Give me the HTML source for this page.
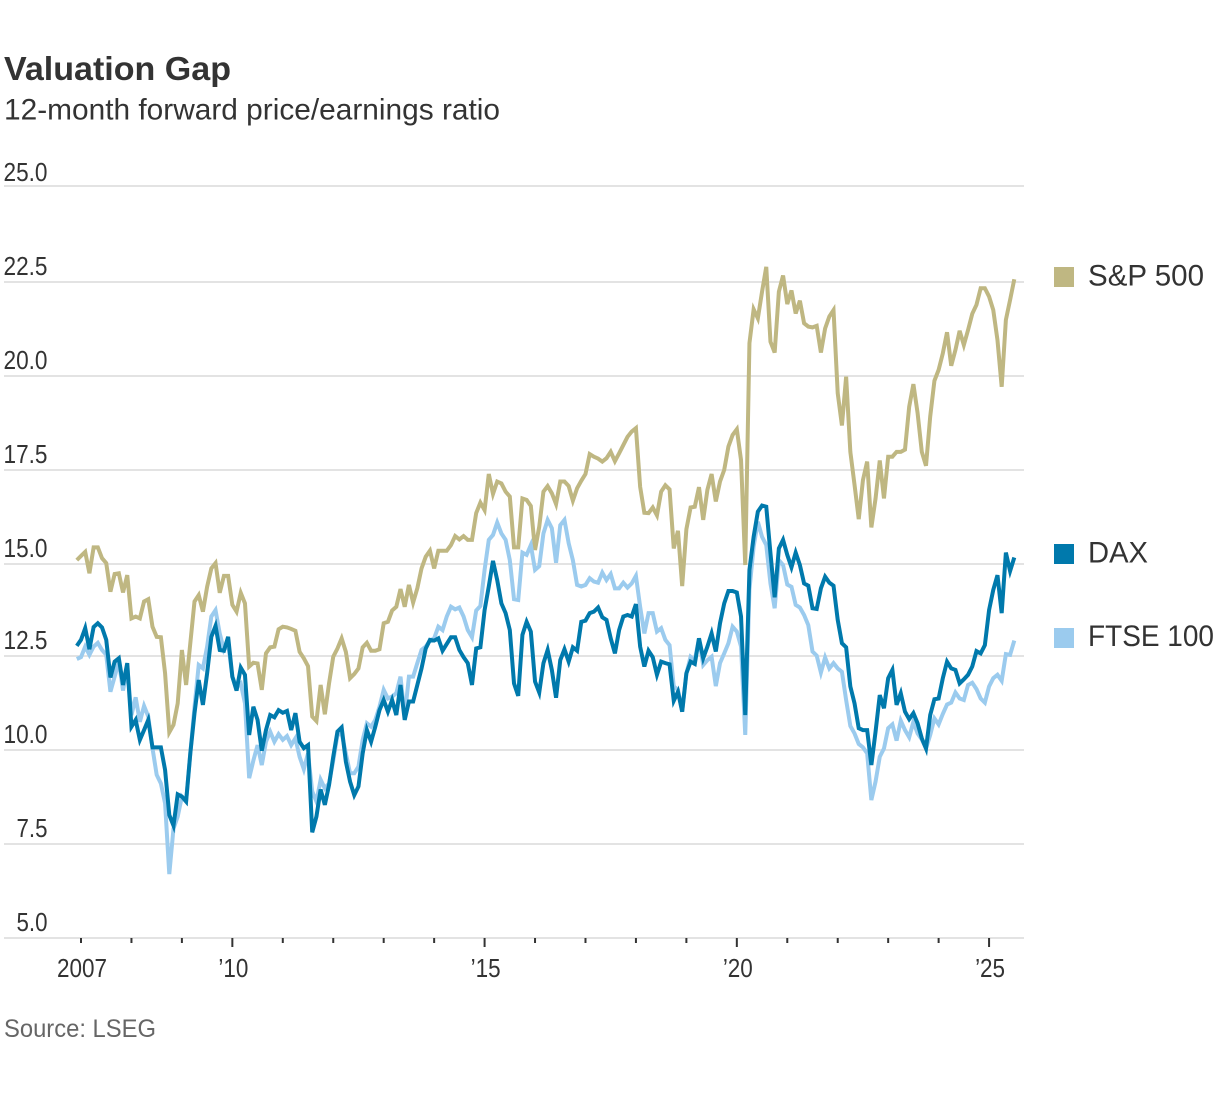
<!DOCTYPE html>
<html lang="en">
<head>
<meta charset="utf-8">
<title>Valuation Gap</title>
<style>
html,body{margin:0;padding:0;background:#fff;}
svg{display:block;font-family:"Liberation Sans",sans-serif;}
</style>
</head>
<body>
<svg id="chart" xmlns="http://www.w3.org/2000/svg" width="1226" height="1098" viewBox="0 0 1226 1098">
  <text x="4" y="80" font-size="33" font-weight="700" fill="#333" textLength="227" lengthAdjust="spacingAndGlyphs">Valuation Gap</text>
  <text x="4" y="119.5" font-size="30" fill="#333" textLength="496" lengthAdjust="spacingAndGlyphs">12-month forward price/earnings ratio</text>
  <g id="grid"></g>
  <g id="xaxis"></g>
  <g id="series"></g>
  <g>
    <g>
      <rect x="1054" y="267" width="20" height="20" fill="#bfb782"/>
      <text x="1088" y="285.5" font-size="30" fill="#333" textLength="116" lengthAdjust="spacingAndGlyphs">S&amp;P 500</text>
    </g>
    <g>
      <rect x="1054" y="544" width="20" height="20" fill="#0079ac"/>
      <text x="1088" y="562.5" font-size="30" fill="#333" textLength="60" lengthAdjust="spacingAndGlyphs">DAX</text>
    </g>
    <g>
      <rect x="1054" y="628" width="20" height="20" fill="#9bcbee"/>
      <text x="1088" y="646" font-size="30" fill="#333" textLength="126" lengthAdjust="spacingAndGlyphs">FTSE 100</text>
    </g>
  </g>
  <text x="4" y="1037" font-size="25" fill="#666" textLength="152" lengthAdjust="spacingAndGlyphs">Source: LSEG</text>
</svg>
<script>
const yTicks = [25, 22.5, 20, 17.5, 15, 12.5, 10, 7.5, 5];
const xTickYears = [2007,2008,2009,2010,2011,2012,2013,2014,2015,2016,2017,2018,2019,2020,2021,2022,2023,2024,2025];
const xLabelYears = [2007,2010,2015,2020,2025];
const xLabelText = ["2007","’10","’15","’20","’25"];
const sp500 = [
15.05,15.16,15.27,14.70,15.39,15.39,15.10,14.97,14.21,14.68,14.70,14.19,14.65,13.50,13.55,13.50,13.95,14.01,13.28,13.01,
13.00,12.04,10.47,10.67,11.24,12.66,11.73,12.84,13.95,14.12,13.68,14.34,14.83,14.97,14.18,14.63,14.63,13.86,13.68,14.18,
13.90,12.22,12.32,12.30,11.60,12.57,12.73,12.75,13.21,13.28,13.26,13.22,13.17,12.61,12.44,12.23,10.89,10.77,11.73,10.95,
11.77,12.48,12.70,12.97,12.61,11.91,12.02,12.17,12.73,12.85,12.64,12.64,12.68,13.37,13.41,13.71,13.81,14.28,13.81,14.39,
13.92,14.30,14.83,15.14,15.30,14.83,15.30,15.30,15.30,15.45,15.69,15.60,15.69,15.59,15.59,16.30,16.58,16.38,17.34,16.81,
17.14,17.09,16.87,16.74,15.39,15.39,16.69,16.65,16.49,15.32,15.94,16.87,17.02,16.83,16.54,17.14,17.14,17.02,16.63,16.96,
17.16,17.34,17.87,17.80,17.75,17.67,17.76,17.93,17.68,17.89,18.11,18.33,18.47,18.56,17.00,16.31,16.30,16.45,16.24,16.87,
17.04,16.93,15.36,15.83,14.36,15.87,16.45,16.47,16.99,16.12,16.92,17.34,16.61,17.14,17.45,18.07,18.38,18.53,17.71,14.92,
20.82,21.72,21.48,22.19,22.85,20.86,20.57,22.19,22.62,21.86,22.22,21.61,21.95,21.35,21.26,21.24,21.28,20.57,21.21,21.53,
21.70,19.49,18.63,19.93,17.93,17.05,16.14,17.18,17.67,15.92,16.69,17.70,16.69,17.80,17.80,17.93,17.93,17.99,19.13,19.73,
18.96,17.93,17.56,18.87,19.82,20.11,20.55,21.11,20.22,20.64,21.15,20.77,21.17,21.60,21.84,22.28,22.28,22.06,21.70,20.90,
19.66,21.44,21.97,22.52];
const ftse100 = [
12.42,12.47,12.75,12.53,12.75,12.85,12.66,12.53,11.55,11.95,12.35,11.58,12.22,10.93,11.40,10.75,11.17,10.89,10.05,9.34,
9.11,8.58,6.70,7.91,8.23,8.76,8.63,9.91,11.15,12.26,12.17,12.75,13.55,13.72,13.10,12.66,12.84,11.95,11.68,11.77,
11.24,9.25,9.72,10.13,9.60,10.22,10.49,10.22,10.42,10.27,10.37,10.13,10.31,9.82,9.49,9.91,8.90,8.63,9.21,8.98,
9.11,9.72,10.40,10.44,9.91,9.38,9.38,9.56,10.27,10.71,10.62,10.80,11.15,11.60,11.37,11.42,11.51,11.95,10.89,11.95,
11.95,12.31,12.66,12.75,12.91,12.97,13.28,13.19,13.55,13.81,13.74,13.79,13.55,13.19,13.00,13.71,13.83,14.79,15.59,15.72,
16.05,15.76,15.59,15.05,14.01,13.99,15.25,15.19,15.45,14.79,14.89,15.76,16.12,15.90,14.98,15.98,16.12,15.50,15.05,14.39,
14.35,14.39,14.57,14.48,14.45,14.72,14.52,14.68,14.30,14.30,14.45,14.32,14.43,14.63,13.81,13.10,13.64,13.64,13.15,13.24,
12.93,12.79,11.69,11.60,11.02,12.04,12.48,12.39,12.97,12.26,12.39,12.48,11.70,12.31,12.57,12.84,13.28,13.15,12.75,10.40,
14.26,15.41,16.07,15.67,15.45,14.43,13.77,15.05,14.92,14.40,14.34,13.86,13.79,13.59,13.32,12.62,12.51,12.06,12.46,12.17,
12.31,12.17,12.08,11.33,10.64,10.44,10.16,10.07,9.91,8.67,9.16,9.82,10.04,10.58,10.68,10.25,10.78,10.53,10.34,10.75,
10.44,10.28,10.04,10.40,10.84,10.68,10.96,11.21,11.26,11.53,11.37,11.33,11.73,11.79,11.62,11.37,11.26,11.69,11.91,12.00,
11.84,12.55,12.53,12.91];
const dax = [
12.77,12.93,13.24,12.68,13.27,13.37,13.26,12.93,11.93,12.35,12.44,11.73,12.31,10.62,10.80,10.27,10.53,10.80,10.07,10.07,
10.07,9.47,8.27,7.99,8.82,8.76,8.63,9.91,10.98,11.86,11.20,12.04,13.01,13.30,12.66,12.64,13.01,11.95,11.58,12.19,
12.00,10.40,11.15,10.80,9.98,10.53,10.93,10.87,11.06,10.99,11.04,10.53,10.98,10.22,10.05,10.13,7.81,8.23,8.95,8.54,
9.07,9.82,10.49,10.60,9.69,9.16,8.80,9.03,9.91,10.53,10.22,10.62,11.06,11.33,11.02,11.33,10.93,11.73,10.80,11.29,
11.29,11.73,12.17,12.70,12.93,12.91,12.97,12.64,12.82,13.00,13.00,12.66,12.47,12.31,11.73,12.70,12.73,13.72,14.35,15.03,
14.52,13.90,13.64,13.19,11.77,11.44,13.06,13.41,13.15,11.82,11.53,12.31,12.66,12.13,11.39,12.39,12.68,12.35,12.73,12.64,
13.41,13.44,13.64,13.68,13.79,13.53,13.46,12.97,12.57,13.19,13.55,13.59,13.55,13.88,12.75,12.22,12.64,12.47,12.00,12.35,
12.31,12.28,11.31,11.55,11.02,12.04,12.35,12.29,12.97,12.44,12.75,13.10,12.62,13.37,13.90,14.23,14.23,14.19,13.55,10.93,
14.79,15.67,16.34,16.50,16.47,15.23,14.06,15.36,15.59,15.19,14.86,15.25,14.92,14.43,14.37,13.77,13.75,14.30,14.61,14.45,
14.37,13.46,12.84,12.73,11.69,11.24,10.58,10.53,10.53,9.60,10.49,11.46,11.11,11.91,12.13,11.20,11.51,11.02,10.82,10.98,
10.71,10.31,10.04,10.93,11.35,11.37,11.91,12.35,12.17,12.13,11.77,11.88,12.00,12.22,12.63,12.57,12.79,13.72,14.26,14.65,
13.64,15.25,14.76,15.12];

const SVGNS = "http://www.w3.org/2000/svg";
const plotLeft = 4, plotRight = 1024;
function yScale(v){ return 938 - (v - 5) * 37.6; }
// the reference's middle gridlines sit 2px below the straight scale
function gridY(t){ return yScale(t) + (t >= 15 && t < 25 ? 2 : 0); }
// month index 0 = December 2006
function xScale(i){ return 76.8 + i * 4.204; }
function yearToIndex(y){ return (y - 2007) * 12 + 1; }

const gridGroup = document.getElementById('grid');
yTicks.forEach(function(t, k){
  const y = gridY(t);
  const line = document.createElementNS(SVGNS,'line');
  
  
  line.setAttribute('x1', plotLeft);
  line.setAttribute('x2', plotRight);
  line.setAttribute('y1', y);
  line.setAttribute('y2', y);
  line.setAttribute('stroke', '#e3e3e3');
  line.setAttribute('stroke-width', '2');
  gridGroup.appendChild(line);
  const label = document.createElementNS(SVGNS,'text');
  
  
  label.setAttribute('x', 47.5);
  label.setAttribute('y', y - (k === 0 ? 5.2 : 7));
  label.setAttribute('font-size', '26');
  label.setAttribute('fill', '#333');
  label.setAttribute('text-anchor', 'end');
  const str = t.toFixed(1);
  label.setAttribute('textLength', str.length === 4 ? 44 : 31);
  label.setAttribute('lengthAdjust', 'spacingAndGlyphs');
  label.textContent = str;
  gridGroup.appendChild(label);
});

const axisGroup = document.getElementById('xaxis');
xTickYears.forEach(function(yr){
  const x = xScale(yearToIndex(yr));
  const major = xLabelYears.indexOf(yr) > 0;
  const tick = document.createElementNS(SVGNS,'line');
  
  
  tick.setAttribute('x1', x);
  tick.setAttribute('x2', x);
  tick.setAttribute('y1', 938);
  tick.setAttribute('y2', major ? 947 : 943);
  tick.setAttribute('stroke', '#333');
  tick.setAttribute('stroke-width', '2');
  axisGroup.appendChild(tick);
});
xLabelYears.forEach(function(yr, k){
  const label = document.createElementNS(SVGNS,'text');
  
  
  label.setAttribute('x', xScale(yearToIndex(yr)) + 1);
  label.setAttribute('y', 977);
  label.setAttribute('font-size', '26');
  label.setAttribute('fill', '#333');
  label.setAttribute('text-anchor', 'middle');
  label.setAttribute('textLength', k === 0 ? 50 : 30);
  label.setAttribute('lengthAdjust', 'spacingAndGlyphs');
  label.textContent = xLabelText[k];
  axisGroup.appendChild(label);
});

function linePath(values){
  return values.map(function(v,i){
    return (i ? 'L' : 'M') + xScale(i).toFixed(2) + ' ' + yScale(v).toFixed(2);
  }).join('');
}
const seriesGroup = document.getElementById('series');

const spLine = document.createElementNS(SVGNS,'path');


spLine.setAttribute('d', linePath(sp500));
spLine.setAttribute('fill', 'none');
spLine.setAttribute('stroke', '#bfb782');
spLine.setAttribute('stroke-width', '4');
seriesGroup.appendChild(spLine);

const ftseLine = document.createElementNS(SVGNS,'path');


ftseLine.setAttribute('d', linePath(ftse100));
ftseLine.setAttribute('fill', 'none');
ftseLine.setAttribute('stroke', '#9bcbee');
ftseLine.setAttribute('stroke-width', '4');
seriesGroup.appendChild(ftseLine);

const daxLine = document.createElementNS(SVGNS,'path');


daxLine.setAttribute('d', linePath(dax));
daxLine.setAttribute('fill', 'none');
daxLine.setAttribute('stroke', '#0079ac');
daxLine.setAttribute('stroke-width', '4');
seriesGroup.appendChild(daxLine);
</script>
</body>
</html>
